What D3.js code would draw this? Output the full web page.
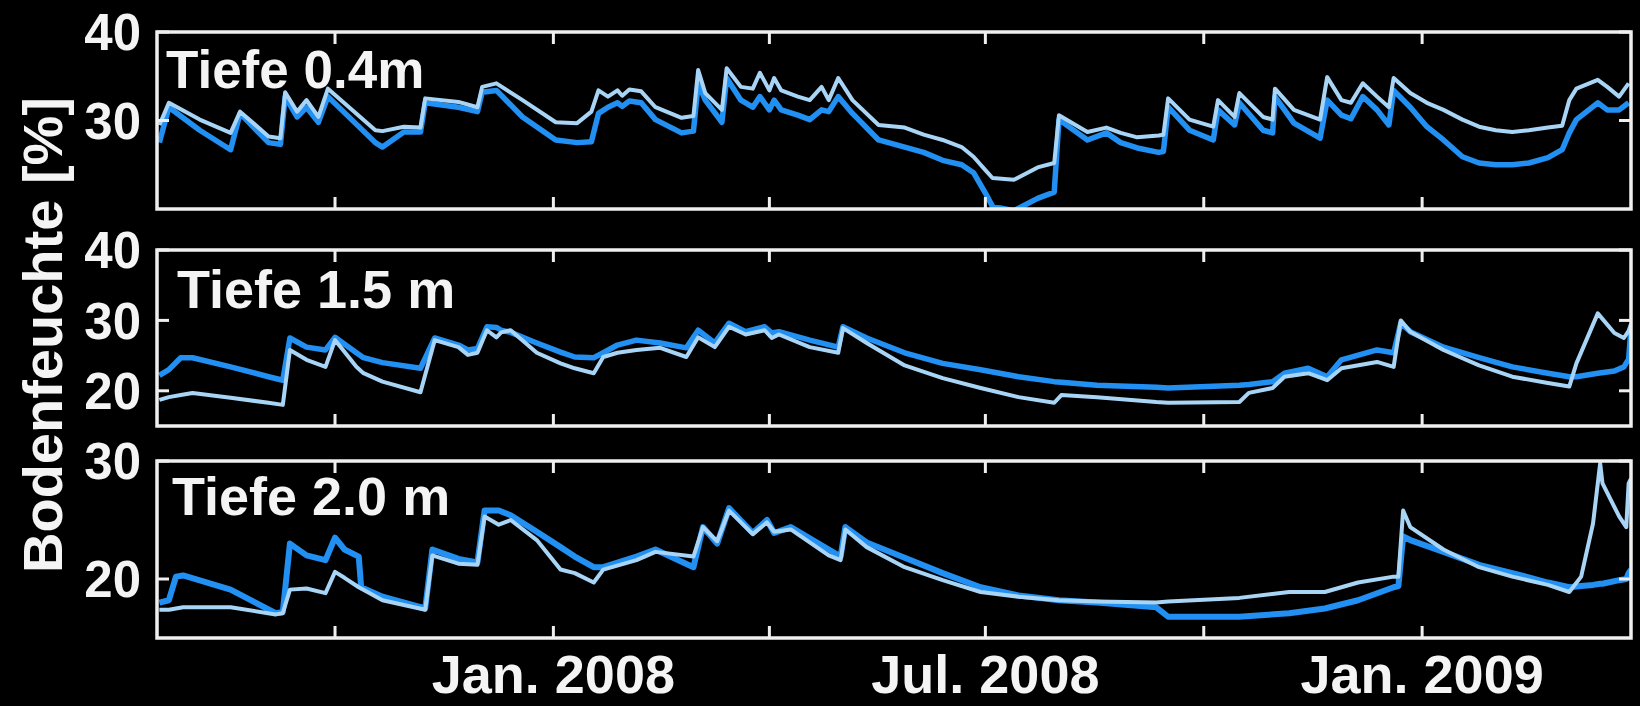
<!DOCTYPE html>
<html>
<head>
<meta charset="utf-8">
<script src="https://cdn.jsdelivr.net/npm/d3@7"></script>
<style>
  html, body { margin: 0; padding: 0; background: #000; }
  svg { display: block; }
  text { font-family: "Liberation Sans", Arial, Helvetica, sans-serif; font-weight: bold; fill: #f4f4f4; }
</style>
</head>
<body>
<svg id="chart" width="1640" height="706"></svg>
<script>
// Bodenfeuchte [%] an drei Tiefen, je zwei Messreihen (dunkel / hell)

// ---- Tiefe 0.4 m ----
const dates04 = ["2007-07-19","2007-07-23","2007-08-05","2007-08-18","2007-08-22","2007-09-03","2007-09-08","2007-09-10","2007-09-15","2007-09-19",
  "2007-09-24","2007-09-28","2007-10-18","2007-10-21","2007-10-30","2007-11-06","2007-11-08","2007-11-22","2007-11-30","2007-12-02",
  "2007-12-08","2007-12-19","2008-01-02","2008-01-11","2008-01-17","2008-01-20","2008-01-24","2008-01-28","2008-01-30","2008-02-02",
  "2008-02-07","2008-02-13","2008-02-24","2008-02-29","2008-03-02","2008-03-05","2008-03-12","2008-03-14","2008-03-20","2008-03-25",
  "2008-03-28","2008-04-01","2008-04-03","2008-04-06","2008-04-13","2008-04-18","2008-04-23","2008-04-26","2008-04-30","2008-05-06",
  "2008-05-17","2008-05-28","2008-06-05","2008-06-13","2008-06-21","2008-06-26","2008-07-01","2008-07-04","2008-07-13","2008-07-23",
  "2008-07-30","2008-08-01","2008-08-13","2008-08-21","2008-08-27","2008-09-03","2008-09-12","2008-09-14","2008-09-16","2008-09-25",
  "2008-10-05","2008-10-07","2008-10-14","2008-10-16","2008-10-26","2008-10-30","2008-10-31","2008-11-08","2008-11-19","2008-11-22",
  "2008-11-28","2008-12-02","2008-12-07","2008-12-13","2008-12-18","2008-12-20","2008-12-27","2009-01-03","2009-01-10","2009-01-18",
  "2009-01-25","2009-02-01","2009-02-08","2009-02-15","2009-02-23","2009-03-01","2009-03-04","2009-03-07","2009-03-16","2009-03-20",
  "2009-03-25","2009-03-29"];
const dark04 = [27.5,31.5,28.9,26.7,30.8,27.5,27.3,32.7,30.4,31.5,
  29.8,32.7,27.5,27.0,28.7,28.7,32.0,31.5,31.0,33.2,
  33.4,30.4,27.8,27.5,27.6,30.8,31.5,32.0,31.6,32.2,
  32.0,30.1,28.6,28.8,34.2,32.3,29.8,34.8,32.3,31.5,
  32.7,31.2,32.3,31.2,30.6,30.1,31.2,31.0,32.7,30.8,
  27.8,27.0,26.4,25.5,25.0,24.1,21.8,20.3,19.8,21.2,
  21.9,30.1,27.8,28.6,27.5,26.9,26.4,26.5,31.5,28.9,
  27.8,31.2,29.5,32.0,28.9,28.6,32.7,29.7,28.0,32.3,
  30.6,30.2,32.7,31.2,29.5,33.4,31.5,29.3,27.8,25.9,
  25.2,25.0,25.0,25.2,25.8,26.7,28.6,30.1,32.0,31.2,
  31.2,32.0];
const light04 = [29.5,32.0,30.1,28.6,31.0,28.2,28.0,33.2,31.0,32.3,
  30.4,33.6,28.9,28.8,29.3,29.2,32.5,32.1,31.5,33.8,
  34.2,32.3,29.8,29.7,31.0,33.4,32.7,33.4,32.8,33.5,
  33.3,31.5,30.3,30.5,35.7,33.1,31.2,35.9,33.8,33.6,
  35.4,33.4,34.8,33.4,32.7,32.3,33.8,32.3,34.8,32.3,
  29.5,29.2,28.4,27.8,27.0,25.9,24.4,23.5,23.3,24.7,
  25.2,30.6,28.7,29.2,28.6,28.1,28.3,28.4,32.5,30.1,
  29.3,32.3,30.4,33.1,30.4,30.1,33.6,31.2,30.1,34.9,
  32.3,32.0,34.2,32.7,31.5,34.8,33.1,32.0,31.2,30.1,
  29.3,28.9,28.7,28.9,29.2,29.4,32.3,33.6,34.6,33.8,
  32.7,34.2];

// ---- Tiefe 1.5 m ----
const dates15 = ["2007-07-19","2007-07-23","2007-07-28","2007-08-02","2007-08-18","2007-09-03","2007-09-09","2007-09-12","2007-09-19","2007-09-27",
  "2007-10-01","2007-10-10","2007-10-13","2007-10-21","2007-11-06","2007-11-12","2007-11-22","2007-11-26","2007-11-30","2007-12-04",
  "2007-12-08","2007-12-10","2007-12-14","2007-12-25","2008-01-04","2008-01-10","2008-01-18","2008-01-22","2008-01-28","2008-02-05",
  "2008-02-15","2008-02-26","2008-03-02","2008-03-09","2008-03-15","2008-03-22","2008-03-30","2008-04-02","2008-04-05","2008-04-18",
  "2008-04-30","2008-05-02","2008-05-12","2008-05-28","2008-06-13","2008-06-29","2008-07-15","2008-07-30","2008-08-02","2008-08-17",
  "2008-09-11","2008-09-16","2008-10-16","2008-10-20","2008-10-30","2008-11-04","2008-11-14","2008-11-22","2008-11-28","2008-12-13",
  "2008-12-20","2008-12-23","2008-12-27","2009-01-10","2009-01-25","2009-02-08","2009-02-23","2009-03-04","2009-03-07","2009-03-16",
  "2009-03-23","2009-03-27","2009-03-29","2009-03-30"];
const dark15 = [22.2,23.0,24.7,24.7,23.4,22.0,21.5,27.5,26.2,25.8,
  27.6,25.4,24.7,24.0,23.2,27.5,26.5,25.8,26.0,29.1,
  29.0,28.6,28.3,26.8,25.5,24.8,24.7,25.4,26.5,27.2,
  26.8,26.1,28.6,26.8,29.6,28.4,29.1,28.2,28.4,27.2,
  26.2,29.1,27.5,25.4,23.9,23.0,22.0,21.3,21.2,20.8,
  20.5,20.4,20.8,20.9,21.3,22.5,23.2,22.0,24.4,25.8,
  25.4,29.6,28.4,26.2,24.7,23.4,22.5,22.0,22.0,22.5,
  22.8,23.4,24.5,29.0];
const light15 = [18.7,19.1,19.4,19.7,19.0,18.3,18.0,25.8,24.4,23.4,
  27.2,23.4,22.5,21.3,19.8,27.2,26.2,25.1,25.4,28.6,
  27.6,28.3,28.6,25.4,23.9,23.2,22.5,24.8,25.4,25.8,
  26.1,24.8,27.6,26.2,29.1,28.0,28.6,27.5,28.0,26.2,
  25.4,28.9,26.8,23.6,21.8,20.4,19.1,18.3,19.4,19.1,
  18.4,18.3,18.4,19.7,20.4,22.0,22.5,21.5,23.2,24.1,
  23.4,30.0,28.4,25.8,23.6,22.0,21.1,20.6,23.9,31.0,
  28.2,27.5,28.5,29.5];

// ---- Tiefe 2.0 m ----
const dates20 = ["2007-07-19","2007-07-23","2007-07-26","2007-07-29","2007-08-18","2007-09-06","2007-09-09","2007-09-12","2007-09-19","2007-09-27",
  "2007-10-01","2007-10-05","2007-10-11","2007-10-12","2007-10-21","2007-11-08","2007-11-11","2007-11-22","2007-11-30","2007-12-03",
  "2007-12-09","2007-12-14","2007-12-25","2008-01-04","2008-01-10","2008-01-18","2008-01-22","2008-02-05","2008-02-13","2008-02-29",
  "2008-03-04","2008-03-10","2008-03-15","2008-03-25","2008-03-31","2008-04-03","2008-04-10","2008-04-26","2008-05-01","2008-05-03",
  "2008-05-12","2008-05-28","2008-06-13","2008-06-29","2008-07-15","2008-08-01","2008-08-17","2008-09-11","2008-09-16","2008-10-16",
  "2008-11-06","2008-11-21","2008-12-05","2008-12-20","2008-12-22","2008-12-24","2008-12-27","2009-01-10","2009-01-25","2009-02-08",
  "2009-02-23","2009-03-04","2009-03-09","2009-03-14","2009-03-17","2009-03-18","2009-03-25","2009-03-28","2009-03-29","2009-03-30"];
const dark20 = [18.0,18.2,20.2,20.3,19.1,17.1,17.2,23.0,22.0,21.6,
  23.5,22.5,21.9,19.3,18.5,17.5,22.5,21.7,21.4,25.8,
  25.8,25.4,24.0,22.7,21.9,21.0,21.0,21.9,22.5,21.0,
  24.4,23.0,26.0,23.9,25.0,23.9,24.4,22.5,21.9,24.4,
  23.1,21.8,20.5,19.3,18.6,18.2,18.0,17.6,16.8,16.8,
  17.1,17.5,18.2,19.3,19.4,23.6,23.3,22.3,21.2,20.5,
  19.7,19.3,19.4,19.5,19.6,19.6,19.9,20.0,20.5,20.8];
const light20 = [17.4,17.4,17.5,17.6,17.6,17.0,17.1,19.1,19.2,18.8,
  20.6,20.1,19.3,19.2,18.2,17.4,22.0,21.3,21.2,25.3,
  24.6,25.0,23.3,20.8,20.5,19.7,20.8,21.6,22.3,21.9,
  24.4,23.2,25.8,23.8,24.8,24.0,24.2,22.0,21.6,24.2,
  22.7,21.0,19.9,18.9,18.5,18.2,18.1,18.0,18.1,18.4,
  18.9,18.9,19.7,20.2,20.2,25.8,24.4,22.5,21.0,20.2,
  19.5,18.9,20.2,24.7,29.8,28.1,25.3,24.4,28.1,28.5];

// ---- Achsen ----
const timeRange = ["2007-07-18", "2009-03-30"];
const xTickDates = ["2007-10-01","2008-01-01","2008-04-01","2008-07-01","2008-10-01","2009-01-01"];
const xTickLabels = ["", "Jan. 2008", "", "Jul. 2008", "", "Jan. 2009"];
const panelTitles = ["Tiefe 0.4m", "Tiefe 1.5 m", "Tiefe 2.0 m"];
const yDomains = [[20, 40], [15, 40], [15, 30]];
const yTicks = [[30, 40], [20, 30, 40], [20, 30]];
const yAxisTitle = "Bodenfeuchte [%]";

// ---- Layout ----
const parse = d3.timeParse("%Y-%m-%d");
const left = 157, right = 1631;
const panelBoxes = [[32, 209], [250, 426], [461, 638]];
const titlePos = [[166, 88], [177, 308], [172, 515]];
const titleSize = [53, 54, 54];
const darkColor = "#2290f2";
const lightColor = "#a8d5f6";
const frameColor = "#efefef";
const tickLen = 12;

const svg = d3.select("#chart");
svg.append("rect").attr("width", 1640).attr("height", 706).attr("fill", "#000");

const x = d3.scaleTime().domain(timeRange.map(parse)).range([left, right]);

const panels = [
  { dates: dates04, dark: dark04, light: light04 },
  { dates: dates15, dark: dark15, light: light15 },
  { dates: dates20, dark: dark20, light: light20 }
];

const defs = svg.append("defs");

panels.forEach((p, i) => {
  const [top, bottom] = panelBoxes[i];
  const y = d3.scaleLinear().domain(yDomains[i]).range([bottom, top]);
  const g = svg.append("g");

  defs.append("clipPath").attr("id", "clip" + i)
    .append("rect").attr("x", left).attr("y", top).attr("width", right - left).attr("height", bottom - top);

  const line = d3.line()
    .x(d => x(d.date))
    .y(d => y(d.v));

  const darkData = p.dates.map((s, k) => ({ date: parse(s), v: p.dark[k] }));
  const lightData = p.dates.map((s, k) => ({ date: parse(s), v: p.light[k] }));

  const lines = g.append("g").attr("clip-path", `url(#clip${i})`);
  lines.append("path").datum(darkData)
    .attr("d", line).attr("fill", "none")
    .attr("stroke", darkColor).attr("stroke-width", i === 2 ? 6 : 5.5)
    .attr("stroke-linejoin", "round");
  lines.append("path").datum(lightData)
    .attr("d", line).attr("fill", "none")
    .attr("stroke", lightColor).attr("stroke-width", 4)
    .attr("stroke-linejoin", "round");

  // frame
  g.append("rect")
    .attr("x", left).attr("y", top)
    .attr("width", right - left).attr("height", bottom - top)
    .attr("fill", "none").attr("stroke", frameColor).attr("stroke-width", 3.5);

  // inward x ticks, top and bottom
  xTickDates.forEach(s => {
    const xp = x(parse(s));
    g.append("line").attr("x1", xp).attr("x2", xp).attr("y1", top).attr("y2", top + tickLen)
      .attr("stroke", frameColor).attr("stroke-width", 3);
    g.append("line").attr("x1", xp).attr("x2", xp).attr("y1", bottom).attr("y2", bottom - tickLen)
      .attr("stroke", frameColor).attr("stroke-width", 3);
  });

  // y ticks, both sides, and labels
  yTicks[i].forEach(t => {
    const yp = y(t);
    g.append("line").attr("x1", left).attr("x2", left + tickLen).attr("y1", yp).attr("y2", yp)
      .attr("stroke", frameColor).attr("stroke-width", 3);
    g.append("line").attr("x1", right).attr("x2", right - tickLen).attr("y1", yp).attr("y2", yp)
      .attr("stroke", frameColor).attr("stroke-width", 3);
    g.append("text").attr("x", 141).attr("y", yp).attr("dy", "0.36em")
      .attr("text-anchor", "end").attr("font-size", 51).text(d3.format("d")(t));
  });

  g.append("text").attr("x", titlePos[i][0]).attr("y", titlePos[i][1])
    .attr("font-size", titleSize[i]).text(panelTitles[i]);
});

// x tick labels under the lowest panel
xTickDates.forEach((s, k) => {
  if (!xTickLabels[k]) return;
  svg.append("text").attr("x", x(parse(s))).attr("y", 693)
    .attr("text-anchor", "middle").attr("font-size", 54).text(xTickLabels[k]);
});

// y axis title
svg.append("text")
  .attr("transform", "translate(62,335) rotate(-90)")
  .attr("text-anchor", "middle").attr("font-size", 56).text(yAxisTitle);
</script>
</body>
</html>
